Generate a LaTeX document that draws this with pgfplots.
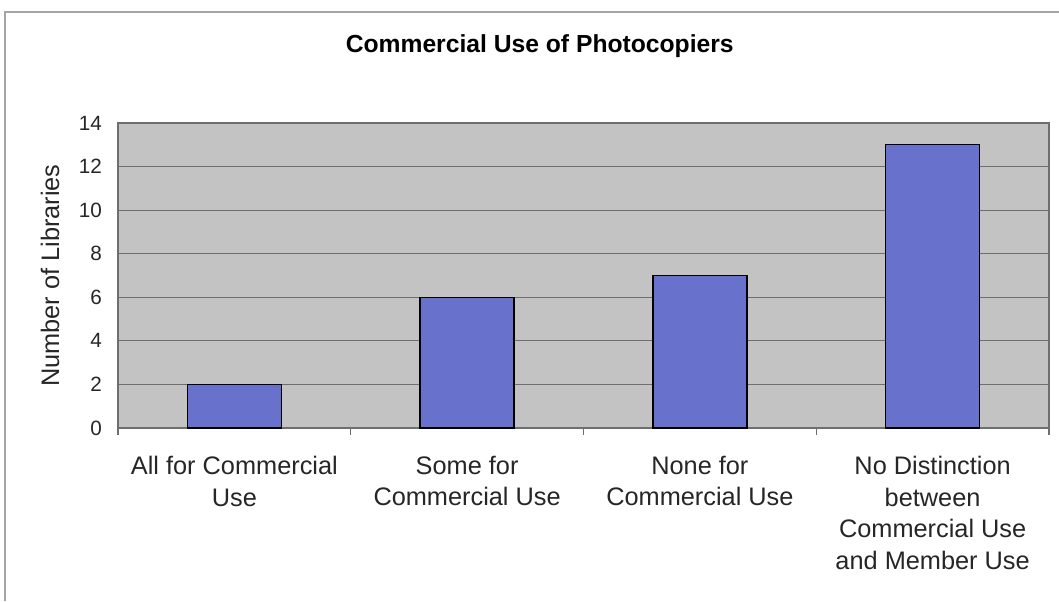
\documentclass[border=0pt]{standalone}
\usepackage{pgfplots}
\pgfplotsset{compat=1.18}
\usepackage{fontspec}
\setmainfont{Liberation Sans}
\definecolor{plotbg}{RGB}{195,195,195}
\definecolor{barfill}{RGB}{104,114,204}
\definecolor{gridc}{RGB}{110,110,110}
\definecolor{framec}{RGB}{165,165,165}
\begin{document}
\begin{tikzpicture}
\path[use as bounding box] (0pt,0pt) rectangle (794.25pt,-450.75pt);
\draw[framec, line width=1pt] (3.75pt,-450.75pt) -- (3.75pt,-9pt) -- (794.25pt,-9pt);
\begin{axis}[
  at={(88.5pt,-321pt)}, anchor=south west,
  scale only axis, width=698.25pt, height=228.75pt,
  ybar, bar width=0.404,
  xmin=-0.5, xmax=3.5, ymin=0, ymax=14,
  ytick={0,2,...,14},
  xtick={0,1,2,3},
  xticklabels={{All for Commercial\\Use},{Some for\\Commercial Use},{None for\\Commercial Use},{No Distinction\\between\\Commercial Use\\and Member Use}},
  minor xtick={-0.5,0.5,1.5,2.5,3.5},
  xtick pos=lower, ytick pos=left, tick align=outside,
  major tick length=0pt, minor tick length=5pt,
  minor tick style={gridc, line width=0.8pt},
  every tick/.style={gridc},
  axis background/.style={fill=plotbg},
  ymajorgrids, grid style={gridc, line width=0.8pt},
  axis line style={gridc, line width=0.9pt},
  /pgf/number format/assume math mode=true,
  tick label style={text=black!85},
  yticklabel style={font=\fontsize{15.5}{18}\selectfont, xshift=-8.5pt},
  xticklabel style={font=\fontsize{19}{23.7}\selectfont, align=center, yshift=-17.5pt},
  title={\bfseries Commercial Use of Photocopiers},
  title style={at={(axis description cs:0.453,1)}, anchor=center, yshift=51.5pt, font=\fontsize{18.5}{22}\selectfont},
  ylabel={Number of Libraries},
  ylabel style={at={(axis description cs:-0.073,0.5)}, anchor=center, font=\fontsize{19}{22}\selectfont, text=black!85},
]
\addplot[fill=barfill, draw=black, line width=1pt] coordinates {(0,2) (1,6) (2,7) (3,13)};
\end{axis}
\end{tikzpicture}
\end{document}
